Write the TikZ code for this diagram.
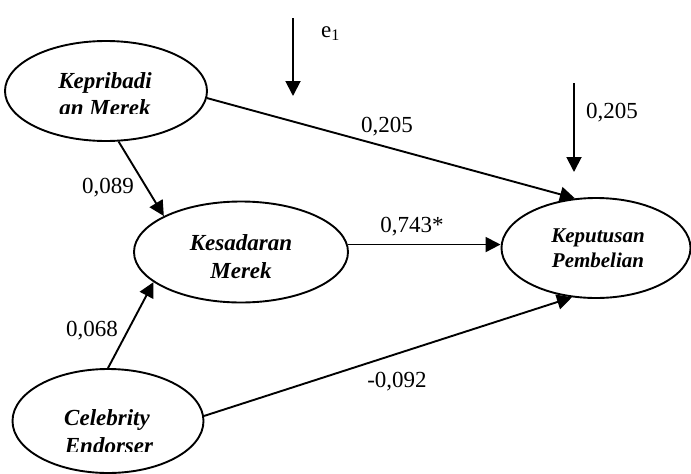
\documentclass[tikz,border=0pt]{standalone}
\usepackage{fontspec}
\setmainfont{Liberation Serif}
\usetikzlibrary{shapes.geometric,arrows.meta}
\begin{document}
\begin{tikzpicture}[x=1pt,y=-1pt,
 latent/.style={draw,ellipse,line width=1.9pt,inner sep=0pt},
 pathar/.style={line width=1.9pt,-{Triangle[length=15pt,width=15pt]}},
 lbl/.style={font=\fontsize{23}{28}\selectfont,anchor=base,inner sep=0pt},
 vname/.style={font=\fontsize{23}{28}\selectfont\bfseries\itshape,anchor=base,inner sep=0pt},
 vsmall/.style={font=\fontsize{21}{26}\selectfont\bfseries\itshape,anchor=base,inner sep=0pt},
]
\useasboundingbox (0,0) rectangle (691,474);
% latent variables
\node[latent,minimum width=202pt,minimum height=100pt] (kep) at (106,91) {};
\node[latent,minimum width=214pt,minimum height=101pt] (kes) at (241,252) {};
\node[latent,minimum width=189pt,minimum height=100pt] (kpt) at (596,248) {};
\node[latent,minimum width=191pt,minimum height=104pt] (cel) at (108,421) {};
% names
\node[vname] (t1a) at (105,88) {Kepribadi};
\begin{scope}
\clip (0,0) rectangle (691,113);
\node[vname] (t1b) at (105,115.5) {an Merek};
\end{scope}
\node[vname] (t2a) at (241,250) {Kesadaran};
\node[vname] (t2b) at (241,278) {Merek};
\node[vsmall] (t3a) at (598,242) {Keputusan};
\node[vsmall] (t3b) at (598,267) {Pembelian};
\node[vname] (t4a) at (107,425) {Celebrity};
\begin{scope}
\clip (0,0) rectangle (691,451);
\node[vname] (t4b) at (109,453) {Endorser};
\end{scope}
% error arrows
\coordinate (e1s) at (293,18);
\coordinate (e1e) at (293,96);
\draw[pathar] (e1s) -- (e1e);
\coordinate (e2s) at (574,83);
\coordinate (e2e) at (574,172);
\draw[pathar] (e2s) -- (e2e);
% paths
\draw[pathar] (kep.-4.5) -- (kpt.113.6);
\draw[pathar] (kep.-76) -- (kes.155);
\draw[pathar] (kes.4.8) -- (kes.4.8 -| kpt.west);
\draw[pathar] (cel.north) -- (kes.199.4);
\draw[pathar] (cel.3.6) -- (kpt.244);
% labels
\node[lbl,anchor=base west] (le) at (321,37) {e\textsubscript{1}};
\node[lbl] (l1) at (387,132) {0,205};
\node[lbl] (l2) at (612,118) {0,205};
\node[lbl] (l3) at (108,193) {0,089};
\node[lbl] (l4) at (92,336) {0,068};
\node[lbl] (l5) at (412,232) {0,743*};
\node[lbl] (l6) at (397,387) {-0,092};
\end{tikzpicture}
\end{document}
